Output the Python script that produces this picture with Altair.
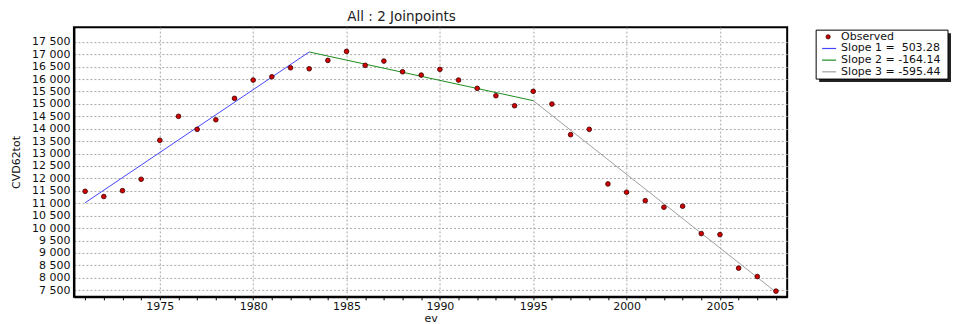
import altair as alt
import pandas as pd

# ---------------- data ----------------
years = list(range(1971, 2009))
observed = [11480, 11270, 11505, 11965, 13534, 14499, 13976, 14362, 15223, 15959,
            16092, 16454, 16414, 16752, 17114, 16551, 16724, 16293, 16160, 16390,
            15959, 15625, 15328, 14926, 15505, 14994, 13759, 13976, 11776, 11442,
            11104, 10839, 10879, 9777, 9737, 8385, 8047, 7460]

seg_labels = ["Slope 1 = \u00a0503.28", "Slope 2 = -164.14", "Slope 3 = -595.44"]
seg_colors = ["#4646ff", "#1e8c1e", "#a0a0a0"]
seg_years = [[1971, 1983], [1983, 1995], [1995, 2008]]
seg_values = [[11020, 17090], [17090, 15130], [15130, 7420]]

legend_labels = ["Observed"] + seg_labels
y_ticks = [7500, 8000, 8500, 9000, 9500, 10000, 10500, 11000, 11500, 12000, 12500,
           13000, 13500, 14000, 14500, 15000, 15500, 16000, 16500, 17000, 17500]

# ---------------- tables ----------------
obs_df = pd.DataFrame({"year": years, "value": observed})
seg_rows = []
for lab, ys, vs in zip(seg_labels, seg_years, seg_values):
    for y, v in zip(ys, vs):
        seg_rows.append({"series": lab, "year": y, "value": v})
seg_df = pd.DataFrame(seg_rows)
leg_df = pd.DataFrame({"label": legend_labels, "row": list(range(len(legend_labels)))})

FONT = "DejaVu Sans"
X_DOMAIN = [1970.4, 2008.6]
Y_DOMAIN = [7230, 18090]

x_scale = alt.Scale(domain=X_DOMAIN, nice=False, zero=False)
y_scale = alt.Scale(domain=Y_DOMAIN, nice=False, zero=False)

y_axis = alt.Axis(
    values=y_ticks,
    labelExpr="replace(format(datum.value, ','), ',', ' ')",
    labelOverlap=False,
    ticks=False, grid=True, gridColor="#a8a8a8", gridDash=[2, 2], gridWidth=1,
    domainColor="black", domainWidth=2,
    labelFont=FONT, labelFontSize=11, labelColor="#111", labelPadding=4,
    title="CVD62tot", titleFont=FONT, titleFontSize=11, titleFontWeight="normal",
    titleColor="#111", titlePadding=2, minExtent=50, maxExtent=50,
)

x_axis = alt.Axis(
    values=years, format="d",
    labelExpr="datum.value % 5 == 0 ? datum.label : ''",
    labelOverlap=False,
    grid=True, gridColor="#a8a8a8", gridDash=[2, 2], gridWidth=1,
    gridOpacity={"condition": {"test": "datum.value % 5 === 0", "value": 1}, "value": 0},
    tickSize=3, tickColor="black", domainColor="black", domainWidth=2,
    labelFont=FONT, labelFontSize=11, labelColor="#111", labelPadding=1,
    title="ev", titleFont=FONT, titleFontSize=11, titleFontWeight="normal",
    titleColor="#111", titlePadding=1,
)

X_ENC = alt.X("year:Q", scale=x_scale, axis=x_axis)
Y_ENC = alt.Y("value:Q", scale=y_scale, axis=y_axis)

lines = alt.Chart(seg_df).mark_line(strokeWidth=1).encode(
    x=X_ENC, y=Y_ENC,
    color=alt.Color("series:N", scale=alt.Scale(domain=seg_labels, range=seg_colors), legend=None),
    detail="series:N",
)

points = alt.Chart(obs_df).mark_circle(size=22, color="#d00000", stroke="#3a0000",
                                         strokeWidth=0.8, opacity=1).encode(
    x=X_ENC, y=Y_ENC,
)

main = alt.layer(lines, points).properties(
    width=714, height=270,
    title=alt.TitleParams("All : 2 Joinpoints", font=FONT, fontSize=13.5, fontWeight="normal",
                          color="#222", anchor="middle", dx=-29, offset=4),
    view=alt.ViewBackground(stroke="black", strokeWidth=2),
)

# ---------------- legend panel ----------------
LT = 3          # top offset of legend box inside its panel
BW, BH = 132, 49
PH = LT + BH + 3
ROW0, STEP = LT + 6.7, 11.67
one = pd.DataFrame({"a": [0]})
shadow = alt.Chart(one).mark_rect(color="#222").encode(
    x=alt.value(3), x2=alt.value(BW + 3), y=alt.value(LT + 3), y2=alt.value(LT + BH + 3))
box = alt.Chart(one).mark_rect(fill="white", stroke="black", strokeWidth=1).encode(
    x=alt.value(0), x2=alt.value(BW), y=alt.value(LT), y2=alt.value(LT + BH))

leg_y = alt.Y("row:Q", scale=alt.Scale(domain=[-ROW0 / STEP, (PH - ROW0) / STEP], nice=False,
                                       zero=False, reverse=True), axis=None)
leg_dot = alt.Chart(leg_df).transform_filter("datum.row == 0").mark_circle(
    size=18, color="#d00000", stroke="#3a0000", strokeWidth=0.8, opacity=1).encode(
    x=alt.value(12), y=leg_y)
leg_rules = alt.Chart(leg_df).transform_filter("datum.row > 0").mark_rule(strokeWidth=1.2).encode(
    x=alt.value(6), x2=alt.value(20), y=leg_y,
    color=alt.Color("label:N", scale=alt.Scale(domain=seg_labels, range=seg_colors), legend=None))
leg_text = alt.Chart(leg_df).mark_text(align="left", baseline="middle", font=FONT,
                                        fontSize=11, color="#111").encode(
    x=alt.value(25), y=leg_y, text="label:N")

legend = alt.layer(shadow, box, leg_dot, leg_rules, leg_text).properties(
    width=BW, height=PH,
    view=alt.ViewBackground(stroke="transparent"),
)

chart = alt.hconcat(main, legend, spacing=27).properties(
    padding={"left": 2, "top": 0, "right": 0, "bottom": 0}
).configure_view(stroke="transparent").configure_axis(labelOverlap=False)

chart.save("out.html", embed_options={"renderer": "svg", "actions": False})
